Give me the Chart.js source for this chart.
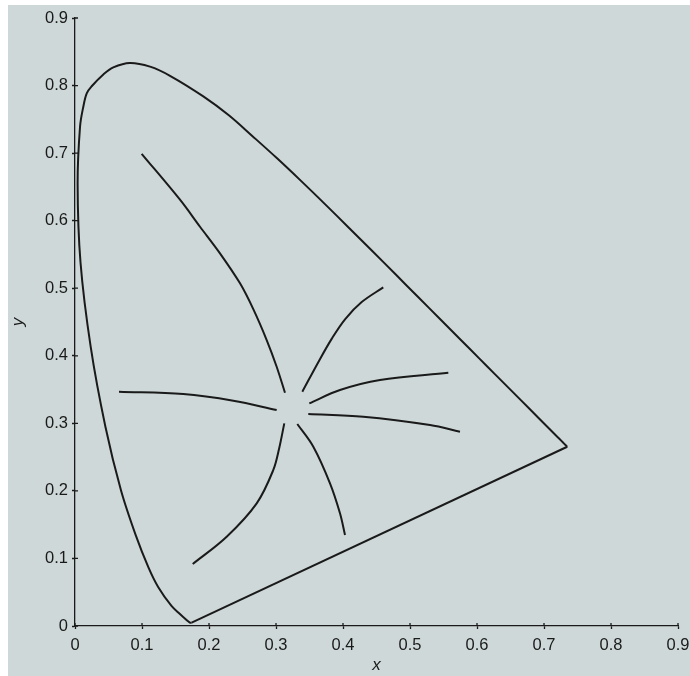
<!DOCTYPE html>
<html>
<head>
<meta charset="utf-8">
<script src="https://cdn.jsdelivr.net/npm/chart.js@4"></script>
<style>
  html, body { margin: 0; padding: 0; background: #ffffff; }
  #wrap { position: absolute; left: 8px; top: 5px; width: 682px; height: 671px; background: #ced8d8; }
</style>
</head>
<body>
<div id="wrap"><canvas id="cie"></canvas></div>
<script>
// Spectral locus (blue end at the bottom -> red end)
const locusX = [0.1741, 0.1733, 0.1714, 0.1689, 0.1644, 0.1566, 0.1440, 0.1241, 0.1096, 0.0913,
    0.0687, 0.0454, 0.0235, 0.0082, 0.0039, 0.0075, 0.0124, 0.0175, 0.0249, 0.0423,
    0.0572, 0.0820, 0.1120, 0.1418, 0.1915, 0.2296, 0.2658, 0.3016, 0.3373, 0.3731,
    0.4087, 0.4441, 0.4788, 0.5125, 0.5448, 0.5752, 0.6029, 0.6270, 0.6658, 0.6915,
    0.7079, 0.7190, 0.7260, 0.7300, 0.7334, 0.7347];
const locusY = [0.0050, 0.0048, 0.0051, 0.0069, 0.0109, 0.0177, 0.0297, 0.0578, 0.0868, 0.1327,
    0.2007, 0.2950, 0.4127, 0.5384, 0.6548, 0.7390, 0.7687, 0.7885, 0.7990, 0.8165,
    0.8270, 0.8335, 0.8280, 0.8145, 0.7840, 0.7560, 0.7243, 0.6923, 0.6589, 0.6245,
    0.5896, 0.5547, 0.5202, 0.4866, 0.4544, 0.4242, 0.3965, 0.3725, 0.3340, 0.3083,
    0.2920, 0.2809, 0.2740, 0.2700, 0.2666, 0.2653];

// Purple line closing the locus
const purpleX = [0.7347, 0.1741];
const purpleY = [0.2653, 0.0050];

// Curves around the white point
const curve1X = [0.0995, 0.1567, 0.1866, 0.2164, 0.2463, 0.2661, 0.2861, 0.3010, 0.3134];
const curve1Y = [0.6990, 0.6310, 0.5910, 0.5516, 0.5072, 0.4690, 0.4233, 0.3838, 0.3453];
const curve2X = [0.4601, 0.4279, 0.4030, 0.3831, 0.3631, 0.3393];
const curve2Y = [0.5013, 0.4795, 0.4540, 0.4250, 0.3905, 0.3468];
const curve3X = [0.3497, 0.3955, 0.4552, 0.5572];
const curve3Y = [0.3296, 0.3493, 0.3641, 0.3750];
const curve4X = [0.3482, 0.4303, 0.5299, 0.5746];
const curve4Y = [0.3138, 0.3098, 0.2975, 0.2876];
const curve5X = [0.3318, 0.3557, 0.3806, 0.3955, 0.4030];
const curve5Y = [0.2990, 0.2654, 0.2112, 0.1668, 0.1347];
const curve6X = [0.3124, 0.3045, 0.2960, 0.2712, 0.2264, 0.1757];
const curve6Y = [0.3000, 0.2620, 0.2310, 0.1816, 0.1322, 0.0918];
const curve7X = [0.0657, 0.1616, 0.2363, 0.3010];
const curve7Y = [0.3468, 0.3434, 0.3335, 0.3197];

const axisTicks = [0, 0.1, 0.2, 0.3, 0.4, 0.5, 0.6, 0.7, 0.8, 0.9];

const ink = '#1a1a1a';

function toPoints(xs, ys) {
    return xs.map((x, i) => ({ x: x, y: ys[i] }));
}

function lineSet(xs, ys, tension) {
    return {
        data: toPoints(xs, ys),
        showLine: true,
        borderColor: ink,
        borderWidth: 2,
        pointRadius: 0,
        tension: tension,
        fill: false
    };
}

// small tick marks that cross into the plot area
const innerTicks = {
    id: 'innerTicks',
    afterDraw(chart) {
        const ctx = chart.ctx;
        const xs = chart.scales.x, ys = chart.scales.y;
        ctx.save();
        ctx.strokeStyle = ink;
        ctx.lineWidth = 1.3;
        ctx.beginPath();
        axisTicks.forEach(v => {
            const px = xs.getPixelForValue(v);
            ctx.moveTo(px, xs.top);
            ctx.lineTo(px, xs.top - 3);
            const py = ys.getPixelForValue(v);
            ctx.moveTo(ys.right, py);
            ctx.lineTo(ys.right + 3, py);
        });
        ctx.stroke();
        ctx.restore();
    }
};

const tickFont = { family: '"Liberation Sans", Arial, sans-serif', size: 16.5 };
const titleFont = { family: '"Liberation Sans", Arial, sans-serif', size: 17, style: 'italic' };

function axisOptions(title, isX) {
    return {
        type: 'linear',
        min: 0,
        max: 0.9,
        afterBuildTicks: scale => { scale.ticks = axisTicks.map(v => ({ value: v })); },
        afterFit: scale => {
            if (isX) {
                scale.height = 50;
                scale.paddingRight = 0;
                scale.paddingLeft = 0;
            } else {
                scale.width = 67;
                scale.paddingTop = 0;
            }
        },
        grid: { drawOnChartArea: false, drawTicks: true, tickLength: 3, tickColor: ink, tickWidth: 1.3 },
        border: { display: true, color: ink, width: 1.3 },
        ticks: { color: ink, font: tickFont, padding: isX ? 7 : 4, maxRotation: 0, autoSkip: false },
        title: { display: true, text: title, color: ink, font: titleFont, padding: isX ? { top: 0, bottom: 1 } : { top: 0, bottom: 0 } }
    };
}

new Chart(document.getElementById('cie'), {
    type: 'scatter',
    data: {
        datasets: [
            lineSet(locusX, locusY, 0.35),
            lineSet(purpleX, purpleY, 0),
            lineSet(curve1X, curve1Y, 0.35),
            lineSet(curve2X, curve2Y, 0.35),
            lineSet(curve3X, curve3Y, 0.35),
            lineSet(curve4X, curve4Y, 0.35),
            lineSet(curve5X, curve5Y, 0.35),
            lineSet(curve6X, curve6Y, 0.35),
            lineSet(curve7X, curve7Y, 0.35)
        ]
    },
    options: {
        responsive: true,
        maintainAspectRatio: false,
        animation: false,
        layout: { padding: { top: 13, right: 12, left: 0, bottom: 0 } },
        plugins: { legend: { display: false }, tooltip: { enabled: false } },
        scales: {
            x: axisOptions('x', true),
            y: axisOptions('y', false)
        }
    },
    plugins: [innerTicks]
});
</script>
</body>
</html>
